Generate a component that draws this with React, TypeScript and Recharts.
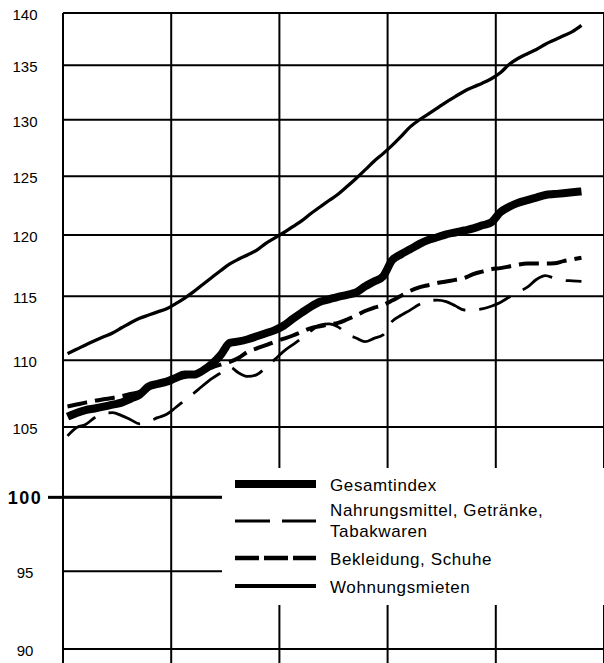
import React from 'react';
import { LineChart, Line, XAxis, YAxis, CartesianGrid, ReferenceLine, Legend } from 'recharts';

// Monthly index values
const gesamtindex = [105.76,106.04,106.25,106.37,106.5,106.65,106.8,107.09,107.4,108.0,108.2,108.37,108.65,108.9,108.9,109.2,109.7,110.4,111.33,111.44,111.61,111.84,112.08,112.32,112.68,113.2,113.7,114.17,114.55,114.75,114.95,115.1,115.3,115.78,116.18,116.6,117.9,118.4,118.8,119.23,119.58,119.8,120.05,120.2,120.37,120.54,120.8,121.05,121.9,122.37,122.7,122.93,123.15,123.37,123.45,123.53,123.6,123.68];
const nahrung = [104.36,104.96,105.19,105.68,106.0,106.06,105.84,105.54,105.24,105.42,105.69,105.94,106.44,106.97,107.5,108.06,108.59,109.04,109.47,109.02,108.76,108.9,109.44,110.06,110.69,111.2,111.7,112.27,112.71,112.8,112.57,112.0,111.71,111.42,111.68,111.95,113.0,113.48,113.89,114.33,114.64,114.68,114.56,114.23,113.9,113.88,113.99,114.2,114.5,114.93,115.35,115.72,116.34,116.65,116.45,116.27,116.23,116.19];
const bekleidung = [106.52,106.66,106.8,106.93,107.05,107.15,107.28,107.44,107.6,107.9,108.22,108.41,108.56,108.71,108.91,109.18,109.44,109.66,109.87,110.19,110.64,110.9,111.15,111.42,111.65,111.9,112.2,112.48,112.62,112.77,112.88,113.15,113.46,113.82,114.08,114.3,114.65,115.04,115.42,115.7,115.88,116.05,116.18,116.31,116.46,116.78,116.98,117.17,117.26,117.4,117.55,117.63,117.63,117.63,117.65,117.83,117.97,118.11];
const wohnungsmieten = [110.5,110.83,111.17,111.49,111.8,112.1,112.5,112.9,113.25,113.5,113.75,114.0,114.4,114.85,115.36,115.93,116.5,117.07,117.6,118.0,118.35,118.74,119.3,119.75,120.2,120.7,121.2,121.8,122.35,122.9,123.44,124.1,124.8,125.54,126.3,126.97,127.7,128.5,129.35,129.97,130.5,131.05,131.6,132.1,132.6,132.98,133.34,133.75,134.3,135.1,135.67,136.1,136.5,137.0,137.4,137.8,138.2,138.8];

const yTicks = [90, 95, 100, 105, 110, 115, 120, 125, 130, 135, 140];
const yearTicks = [0, 12, 24, 36, 48, 60];

const legendItems = [
  { name: 'Gesamtindex', lines: ['Gesamtindex'] },
  { name: 'Nahrungsmittel', lines: ['Nahrungsmittel, Getränke,', 'Tabakwaren'] },
  { name: 'Bekleidung', lines: ['Bekleidung, Schuhe'] },
  { name: 'Wohnungsmieten', lines: ['Wohnungsmieten'] },
];

const data = gesamtindex.map((g, i) => ({
  month: i + 0.5,
  Gesamtindex: g,
  Nahrungsmittel: nahrung[i],
  Bekleidung: bekleidung[i],
  Wohnungsmieten: wohnungsmieten[i],
}));

const FONT = '"Liberation Sans", Arial, Helvetica, sans-serif';

const styles: Record<string, { w: number; lw: number; dash?: string; legendDash?: string }> = {
  Gesamtindex: { w: 8, lw: 8 },
  Nahrungsmittel: { w: 2.8, lw: 2.8, dash: '34 14', legendDash: '35 12' },
  Bekleidung: { w: 4, lw: 4.5, dash: '20 8', legendDash: '24 5' },
  Wohnungsmieten: { w: 3.3, lw: 4 },
};

const EmptyTick = () => <g />;

const YTick = (props: any) => {
  const { x, y, payload } = props;
  const v = payload.value;
  const bold = v === 100;
  return (
    <g>
      {bold && <line x1={x - 15} x2={x} y1={y} y2={y} stroke="#000" strokeWidth={3} />}
      <text
        x={x - 38}
        y={y + 7}
        textAnchor="middle"
        fontFamily={FONT}
        fontSize={bold ? 18 : 15}
        fontWeight={bold ? 'bold' : 'normal'}
        letterSpacing={bold ? 1.5 : 0}
        fill="#000"
      >
        {v}
      </text>
    </g>
  );
};

const LegendBox = () => {
  const rowY: Record<string, number> = { Gesamtindex: 16, Nahrungsmittel: 53, Bekleidung: 90, Wohnungsmieten: 118 };
  const textY: Record<string, number[]> = { Gesamtindex: [17], Nahrungsmittel: [42, 63], Bekleidung: [91], Wohnungsmieten: [119] };
  return (
    <svg width={382} height={137} style={{ display: 'block' }}>
      {legendItems.map((it) => (
        <g key={it.name}>
          <line
            x1={13}
            x2={94}
            y1={rowY[it.name]}
            y2={rowY[it.name]}
            stroke="#000"
            strokeWidth={styles[it.name].lw}
            strokeDasharray={styles[it.name].legendDash}
          />
          {it.lines.map((t, k) => (
            <text key={k} x={108} y={textY[it.name][k] + 6} fontFamily={FONT} fontSize={17} letterSpacing={0.6} fill="#000">
              {t}
            </text>
          ))}
        </g>
      ))}
    </svg>
  );
};

export default function App() {
  return (
    <div style={{ position: 'absolute', left: 0, top: 0, background: '#fff' }}>
      <LineChart width={604} height={663} data={data} margin={{ top: 13, right: 0, bottom: 0, left: 0 }}>
        <CartesianGrid stroke="#000" strokeWidth={2} />
        <XAxis
          dataKey="month"
          type="number"
          domain={[0, 60]}
          ticks={yearTicks}
          interval={0}
          height={14}
          tickSize={14}
          tick={<EmptyTick />}
          tickLine={{ stroke: '#000', strokeWidth: 2 }}
          axisLine={{ stroke: '#000', strokeWidth: 2 }}
        />
        <YAxis
          type="number"
          scale="log"
          domain={[90, 140]}
          allowDataOverflow
          ticks={yTicks}
          interval={0}
          width={63}
          tickSize={0}
          tickMargin={0}
          tickLine={false}
          axisLine={{ stroke: '#000', strokeWidth: 2 }}
          tick={<YTick />}
        />
        <ReferenceLine y={100} stroke="#000" strokeWidth={3} />
        <Line dataKey="Wohnungsmieten" type="monotone" stroke="#000" strokeWidth={styles.Wohnungsmieten.w} dot={false} isAnimationActive={false} />
        <Line dataKey="Nahrungsmittel" type="monotone" stroke="#000" strokeWidth={styles.Nahrungsmittel.w} strokeDasharray={styles.Nahrungsmittel.dash} dot={false} isAnimationActive={false} />
        <Line dataKey="Bekleidung" type="monotone" stroke="#000" strokeWidth={styles.Bekleidung.w} strokeDasharray={styles.Bekleidung.dash} dot={false} isAnimationActive={false} />
        <Line dataKey="Gesamtindex" type="monotone" stroke="#000" strokeWidth={styles.Gesamtindex.w} strokeLinejoin="round" dot={false} isAnimationActive={false} />
        <Legend
          layout="horizontal"
          verticalAlign="middle"
          align="center"
          width={382}
          height={137}
          wrapperStyle={{ left: 222, top: 468, width: 382, height: 137, backgroundColor: '#fff', margin: 0, padding: 0 }}
          content={() => <LegendBox />}
        />
      </LineChart>
    </div>
  );
}
